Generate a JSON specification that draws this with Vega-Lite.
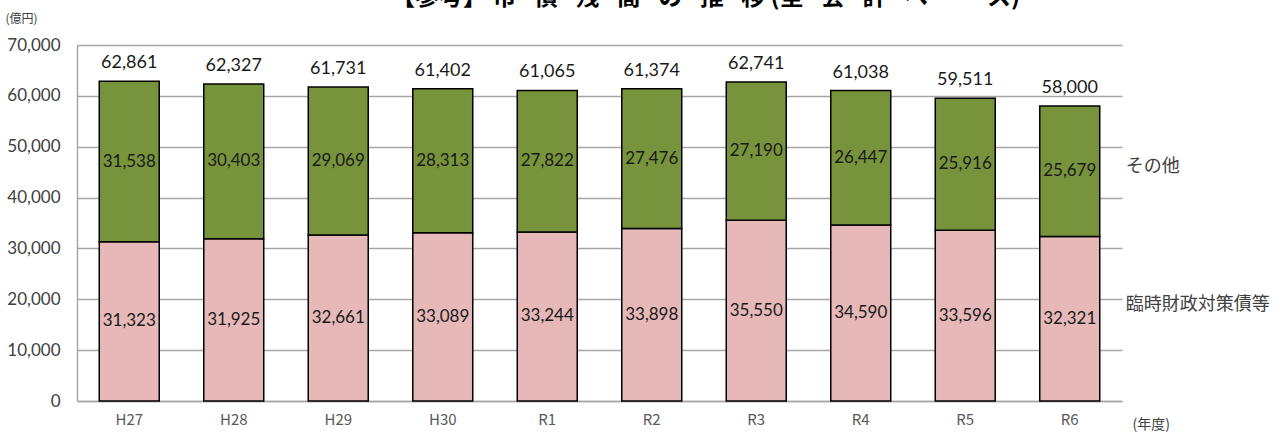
{
  "$schema": "https://vega.github.io/schema/vega-lite/v6.json",
  "width": 1045,
  "height": 356,
  "autosize": {"type": "none"},
  "padding": {"left": 77, "top": 45, "right": 163, "bottom": 34},
  "background": "white",
  "title": {
    "text": "【参考】 市\u2002 債\u2002 残\u2002 高\u2002 の\u2002 推\u2002 移 (全\u2002 会\u2002 計\u2002 ベ\u2002 ー\u2002 ス)",
    "frame": "group",
    "anchor": "middle",
    "dx": 106,
    "dy": 17,
    "offset": 0,
    "baseline": "alphabetic",
    "font": "Noto Sans CJK JP",
    "fontSize": 24,
    "fontWeight": "bold",
    "color": "#000000"
  },
  "datasets": {
    "parts": [
      {"year": "H27", "series": "臨時財政対策債等", "value": 31323},
      {"year": "H27", "series": "その他", "value": 31538},
      {"year": "H28", "series": "臨時財政対策債等", "value": 31925},
      {"year": "H28", "series": "その他", "value": 30403},
      {"year": "H29", "series": "臨時財政対策債等", "value": 32661},
      {"year": "H29", "series": "その他", "value": 29069},
      {"year": "H30", "series": "臨時財政対策債等", "value": 33089},
      {"year": "H30", "series": "その他", "value": 28313},
      {"year": "R1", "series": "臨時財政対策債等", "value": 33244},
      {"year": "R1", "series": "その他", "value": 27822},
      {"year": "R2", "series": "臨時財政対策債等", "value": 33898},
      {"year": "R2", "series": "その他", "value": 27476},
      {"year": "R3", "series": "臨時財政対策債等", "value": 35550},
      {"year": "R3", "series": "その他", "value": 27190},
      {"year": "R4", "series": "臨時財政対策債等", "value": 34590},
      {"year": "R4", "series": "その他", "value": 26447},
      {"year": "R5", "series": "臨時財政対策債等", "value": 33596},
      {"year": "R5", "series": "その他", "value": 25916},
      {"year": "R6", "series": "臨時財政対策債等", "value": 32321},
      {"year": "R6", "series": "その他", "value": 25679}
    ],
    "totals": [
      {"year": "H27", "total": 62861},
      {"year": "H28", "total": 62327},
      {"year": "H29", "total": 61731},
      {"year": "H30", "total": 61402},
      {"year": "R1", "total": 61065},
      {"year": "R2", "total": 61374},
      {"year": "R3", "total": 62741},
      {"year": "R4", "total": 61038},
      {"year": "R5", "total": 59511},
      {"year": "R6", "total": 58000}
    ],
    "names": [
      {"year": "R6", "name": "その他", "level": 46000},
      {"year": "R6", "name": "臨時財政対策債等", "level": 18900}
    ]
  },
  "layer": [
    {
      "data": {"name": "parts"},
      "transform": [
        {"stack": "value", "groupby": ["year"], "sort": [{"field": "series", "order": "descending"}], "as": ["v0", "v1"]}
      ],
      "mark": {"type": "bar", "stroke": "#000000", "strokeWidth": 1.5},
      "encoding": {
        "x": {
          "field": "year", "type": "nominal", "title": "(年度)",
          "scale": {"domain": ["H27", "H28", "H29", "H30", "R1", "R2", "R3", "R4", "R5", "R6"], "paddingInner": 0.426, "paddingOuter": 0.213}
        },
        "y": {
          "field": "v0", "type": "quantitative", "title": "(億円)",
          "scale": {"domain": [0, 70000], "nice": false},
          "axis": {"format": ",d", "values": [0, 10000, 20000, 30000, 40000, 50000, 60000, 70000]}
        },
        "y2": {"field": "v1"},
        "color": {
          "field": "series", "type": "nominal",
          "scale": {"domain": ["臨時財政対策債等", "その他"], "range": ["#E6B8B7", "#77933C"]},
          "legend": null
        }
      }
    },
    {
      "data": {"name": "parts"},
      "transform": [
        {"stack": "value", "groupby": ["year"], "sort": [{"field": "series", "order": "descending"}], "as": ["v0", "v1"]},
        {"fold": ["v0", "v1"], "as": ["edge", "pos"]},
        {"aggregate": [{"op": "mean", "field": "pos", "as": "mid"}], "groupby": ["year", "series", "value"]}
      ],
      "mark": {"type": "text", "font": "Lato", "fontSize": 17, "color": "#1a1a1a", "baseline": "middle", "align": "center"},
      "encoding": {
        "x": {"field": "year", "type": "nominal", "title": "(年度)"},
        "y": {"field": "mid", "type": "quantitative", "title": "(億円)", "axis": {"format": ",d", "values": [0, 10000, 20000, 30000, 40000, 50000, 60000, 70000]}},
        "text": {"field": "value", "type": "quantitative", "format": ","}
      }
    },
    {
      "data": {"name": "totals"},
      "mark": {"type": "text", "font": "Lato", "fontSize": 18, "color": "#1a1a1a", "baseline": "middle", "align": "center", "dy": -18},
      "encoding": {
        "x": {"field": "year", "type": "nominal", "title": "(年度)"},
        "y": {"field": "total", "type": "quantitative", "title": "(億円)", "axis": {"format": ",d", "values": [0, 10000, 20000, 30000, 40000, 50000, 60000, 70000]}},
        "text": {"field": "total", "type": "quantitative", "format": ","}
      }
    },
    {
      "data": {"name": "names"},
      "mark": {"type": "text", "font": "Noto Sans CJK JP", "fontSize": 18, "color": "#404040", "baseline": "middle", "align": "left", "dx": 56},
      "encoding": {
        "x": {"field": "year", "type": "nominal", "title": "(年度)"},
        "y": {"field": "level", "type": "quantitative", "title": "(億円)", "axis": {"format": ",d", "values": [0, 10000, 20000, 30000, 40000, 50000, 60000, 70000]}},
        "text": {"field": "name", "type": "nominal"}
      }
    }
  ],
  "config": {
    "view": {"stroke": null},
    "axisX": {
      "titleX": 1055, "titleY": 23, "titleAlign": "left", "titleBaseline": "middle",
      "titleFont": "Noto Sans CJK JP", "titleFontSize": 14, "titleFontWeight": "normal", "titleColor": "#404040",
      "labelFont": "Noto Sans CJK JP", "labelFontSize": 15, "labelColor": "#595959", "labelAngle": 0, "labelPadding": 11,
      "ticks": false, "grid": false, "domainColor": "#a6a6a6", "domainWidth": 1.5
    },
    "axisY": {
      "titleAngle": 0, "titleX": -72, "titleY": -27, "titleAlign": "left", "titleBaseline": "middle",
      "titleFont": "Noto Sans CJK JP", "titleFontSize": 12, "titleFontWeight": "normal", "titleColor": "#404040",
      "labelFont": "Lato", "labelFontSize": 17, "labelColor": "#404040", "labelPadding": 17,
      "ticks": false, "grid": true, "gridColor": "#a6a6a6", "gridWidth": 1.5,
      "domain": true, "domainColor": "#a6a6a6", "domainWidth": 1.5
    }
  }
}
